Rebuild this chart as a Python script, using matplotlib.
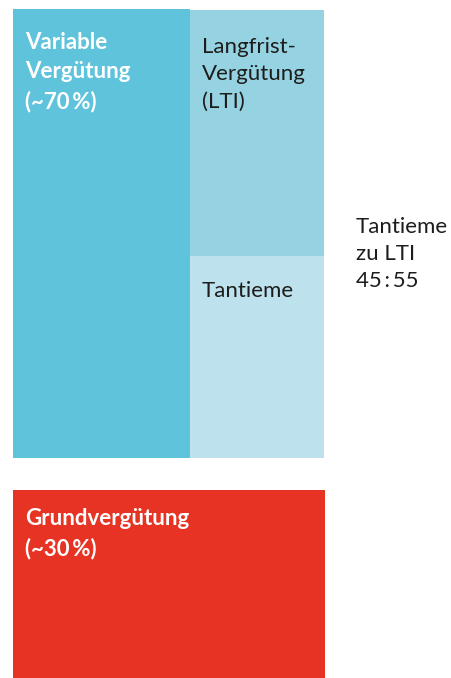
import matplotlib
matplotlib.use("Agg")
from matplotlib import pyplot as plt
from matplotlib.patches import Rectangle

# ---------------------------- DATA ----------------------------
# share of total compensation (%)
part_labels = ["Variable\nVergütung\n(~70\u2009%)", "Grundvergütung\n(~30\u2009%)"]
part_shares = [70, 30]
# split of the variable part: Tantieme vs LTI
var_labels = ["Tantieme", "Langfrist-\nVergütung\n(LTI)"]
var_split = [45, 55]
ratio_note = "Tantieme\nzu LTI\n{}\u2009:\u2009{}".format(var_split[0], var_split[1])

# ---------------------------- STYLE ---------------------------
col_var = "#5fc3db"
col_lti = "#95d2e2"
col_tant = "#bde2ed"
col_base = "#e63323"
txt_dark = "#1d1d1b"

plt.rcParams["font.family"] = ["Lato", "DejaVu Sans"]

fig = plt.figure(figsize=(4.51, 6.78), dpi=100)
ax = fig.add_axes([0, 0, 1, 1])
ax.set_xlim(0, 451)
# red block runs a little past the bottom edge of the picture
ax.set_ylim(0.62, 106.33)
ax.axis("off")

x_left, w_left = 13, 177
x_right, w_right = 190, 134
gap = 4.9

# base pay block at the bottom
base = part_shares[1]
ax.add_patch(Rectangle((x_left, 0), w_left + w_right + 1, base, facecolor=col_base, lw=0))

# variable block above it
var_y0 = base + gap
var_h = part_shares[0]
ax.add_patch(Rectangle((x_left, var_y0), w_left, var_h, facecolor=col_var, lw=0))

# split of the variable part on the right
tant_h = var_h * var_split[0] / 100
lti_h = var_h * var_split[1] / 100
ax.add_patch(Rectangle((x_right, var_y0), w_right, tant_h, facecolor=col_tant, lw=0))
ax.add_patch(Rectangle((x_right, var_y0 + tant_h), w_right, lti_h - 0.15, facecolor=col_lti, lw=0))

# labels (va="baseline" pins the last line of a multi-line text)
fs = 16
ax.text(x_left + 12, 89.5, part_labels[0], color="white", fontsize=fs,
        fontweight="bold", va="baseline", ha="left", linespacing=1.48)
ax.text(x_left + 12, 19.8, part_labels[1], color="white", fontsize=fs,
        fontweight="bold", va="baseline", ha="left", linespacing=1.48)
ax.text(x_right + 12, 89.5, var_labels[1], color=txt_dark, fontsize=fs,
        va="baseline", ha="left", linespacing=1.48)
ax.text(x_right + 12, 60.0, var_labels[0], color=txt_dark, fontsize=fs,
        va="baseline", ha="left", linespacing=1.48)
ax.text(356, 61.6, ratio_note, color=txt_dark, fontsize=fs,
        va="baseline", ha="left", linespacing=1.42)

fig.savefig("out.png", dpi=100)
